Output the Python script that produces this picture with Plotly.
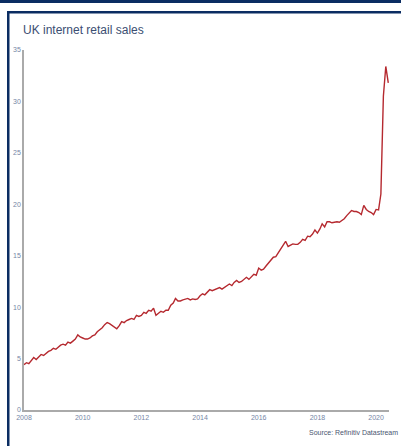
import plotly.graph_objects as go

# Monthly share of internet sales in UK retail (%), Jan 2008 - Jun 2020
months = [f"{y}-{m:02d}-01" for y in range(2008, 2021) for m in range(1, 13)][:150]
values = [
    4.4, 4.6, 4.5, 4.8, 5.1, 4.9, 5.2, 5.4, 5.3, 5.5, 5.7, 5.8,      # 2008
    6.0, 5.9, 6.1, 6.3, 6.4, 6.3, 6.6, 6.5, 6.7, 6.9, 7.3, 7.1,      # 2009
    7.0, 6.9, 6.9, 7.0, 7.2, 7.3, 7.6, 7.8, 8.0, 8.3, 8.5, 8.4,      # 2010
    8.2, 8.0, 7.9, 8.2, 8.6, 8.5, 8.7, 8.8, 8.9, 8.8, 9.2, 9.1,      # 2011
    9.2, 9.5, 9.4, 9.7, 9.6, 9.9, 9.2, 9.4, 9.6, 9.5, 9.7, 9.7,      # 2012
    10.2, 10.4, 10.85, 10.6, 10.6, 10.7, 10.8, 10.85, 10.7, 10.8, 10.75, 10.8,  # 2013
    11.1, 11.3, 11.2, 11.5, 11.7, 11.6, 11.7, 11.8, 11.9, 11.75, 11.9, 12.1,    # 2014
    12.25, 12.1, 12.4, 12.6, 12.4, 12.5, 12.7, 12.9, 12.7, 12.9, 13.2, 13.1,    # 2015
    13.8, 13.6, 13.7, 14.0, 14.3, 14.6, 14.85, 14.9, 15.3, 15.7, 16.1, 16.4,    # 2016
    15.9, 16.0, 16.15, 16.1, 16.1, 16.3, 16.6, 16.5, 16.9, 16.85, 17.1, 17.5,   # 2017
    17.2, 17.6, 18.1, 17.8, 18.3, 18.3, 18.2, 18.25, 18.3, 18.25, 18.4, 18.6,   # 2018
    18.9, 19.2, 19.4, 19.3, 19.3, 19.2, 19.0, 19.9, 19.5, 19.3, 19.2, 19.0,     # 2019
    19.5, 19.45, 21.0, 30.5, 33.4, 31.8,                                        # 2020
]
y_ticks = [0, 5, 10, 15, 20, 25, 30, 35]
x_ticks = ["2008-01-01", "2010-01-01", "2012-01-01", "2014-01-01",
           "2016-01-01", "2018-01-01", "2020-01-01"]
x_labels = ["2008", "2010", "2012", "2014", "2016", "2018", "2020"]

W, H = 401, 446
L, R, T, B = 24, 389, 50, 410


def px(x):
    return (x - L) / (R - L)


def py(y):
    return (B - y) / (B - T)


NAVY = "#0b2d62"
TICKC = "#7586a6"
FONT = "Liberation Sans Narrow, Arial Narrow, Liberation Sans, Arial, sans-serif"

fig = go.Figure()
fig.add_trace(go.Scatter(x=months, y=values, mode="lines",
                         line=dict(color="#b5292f", width=1.4),
                         hoverinfo="skip", showlegend=False, cliponaxis=False))

fig.update_layout(
    width=W, height=H,
    margin=dict(l=L, r=W - R, t=T, b=H - B),
    paper_bgcolor="white", plot_bgcolor="white",
    font=dict(family=FONT, color=TICKC, size=7),
    xaxis=dict(range=["2008-01-01", "2020-06-10"], tickvals=x_ticks, ticktext=x_labels,
               showgrid=False, zeroline=False, showline=True, linecolor="#aaaaaa",
               linewidth=1.5, ticks="", tickfont=dict(size=7, color=TICKC, family=FONT)),
    yaxis=dict(range=[0, 35], tickvals=y_ticks, showgrid=False, zeroline=False,
               showline=True, linecolor="#aaaaaa", linewidth=1.5, ticks="",
               tickfont=dict(size=7, color=TICKC, family=FONT)),
    shapes=[
        dict(type="rect", xref="paper", yref="paper", x0=px(0), x1=px(W), y0=py(3), y1=py(0),
             fillcolor=NAVY, line=dict(width=0), layer="above"),
        dict(type="rect", xref="paper", yref="paper", x0=px(7), x1=px(W), y0=py(13.5), y1=py(11),
             fillcolor=NAVY, line=dict(width=0), layer="above"),
        dict(type="rect", xref="paper", yref="paper", x0=px(7), x1=px(9.5), y0=py(H), y1=py(11),
             fillcolor=NAVY, line=dict(width=0), layer="above"),
    ],
    annotations=[
        dict(text="UK internet retail sales", xref="paper", yref="paper",
             x=px(21), y=py(30), xanchor="left", yanchor="middle", showarrow=False,
             font=dict(size=12, color="#3b4e72", family=FONT)),
        dict(text="Source: Refinitiv Datastream", xref="paper", yref="paper",
             x=px(400), y=py(432), xanchor="right", yanchor="middle", showarrow=False,
             font=dict(size=7, color="#4a5670", family=FONT)),
    ],
)

fig.write_html("out.html", config={"displayModeBar": False},
               post_script="document.body.style.margin='0';document.body.style.padding='0';")
